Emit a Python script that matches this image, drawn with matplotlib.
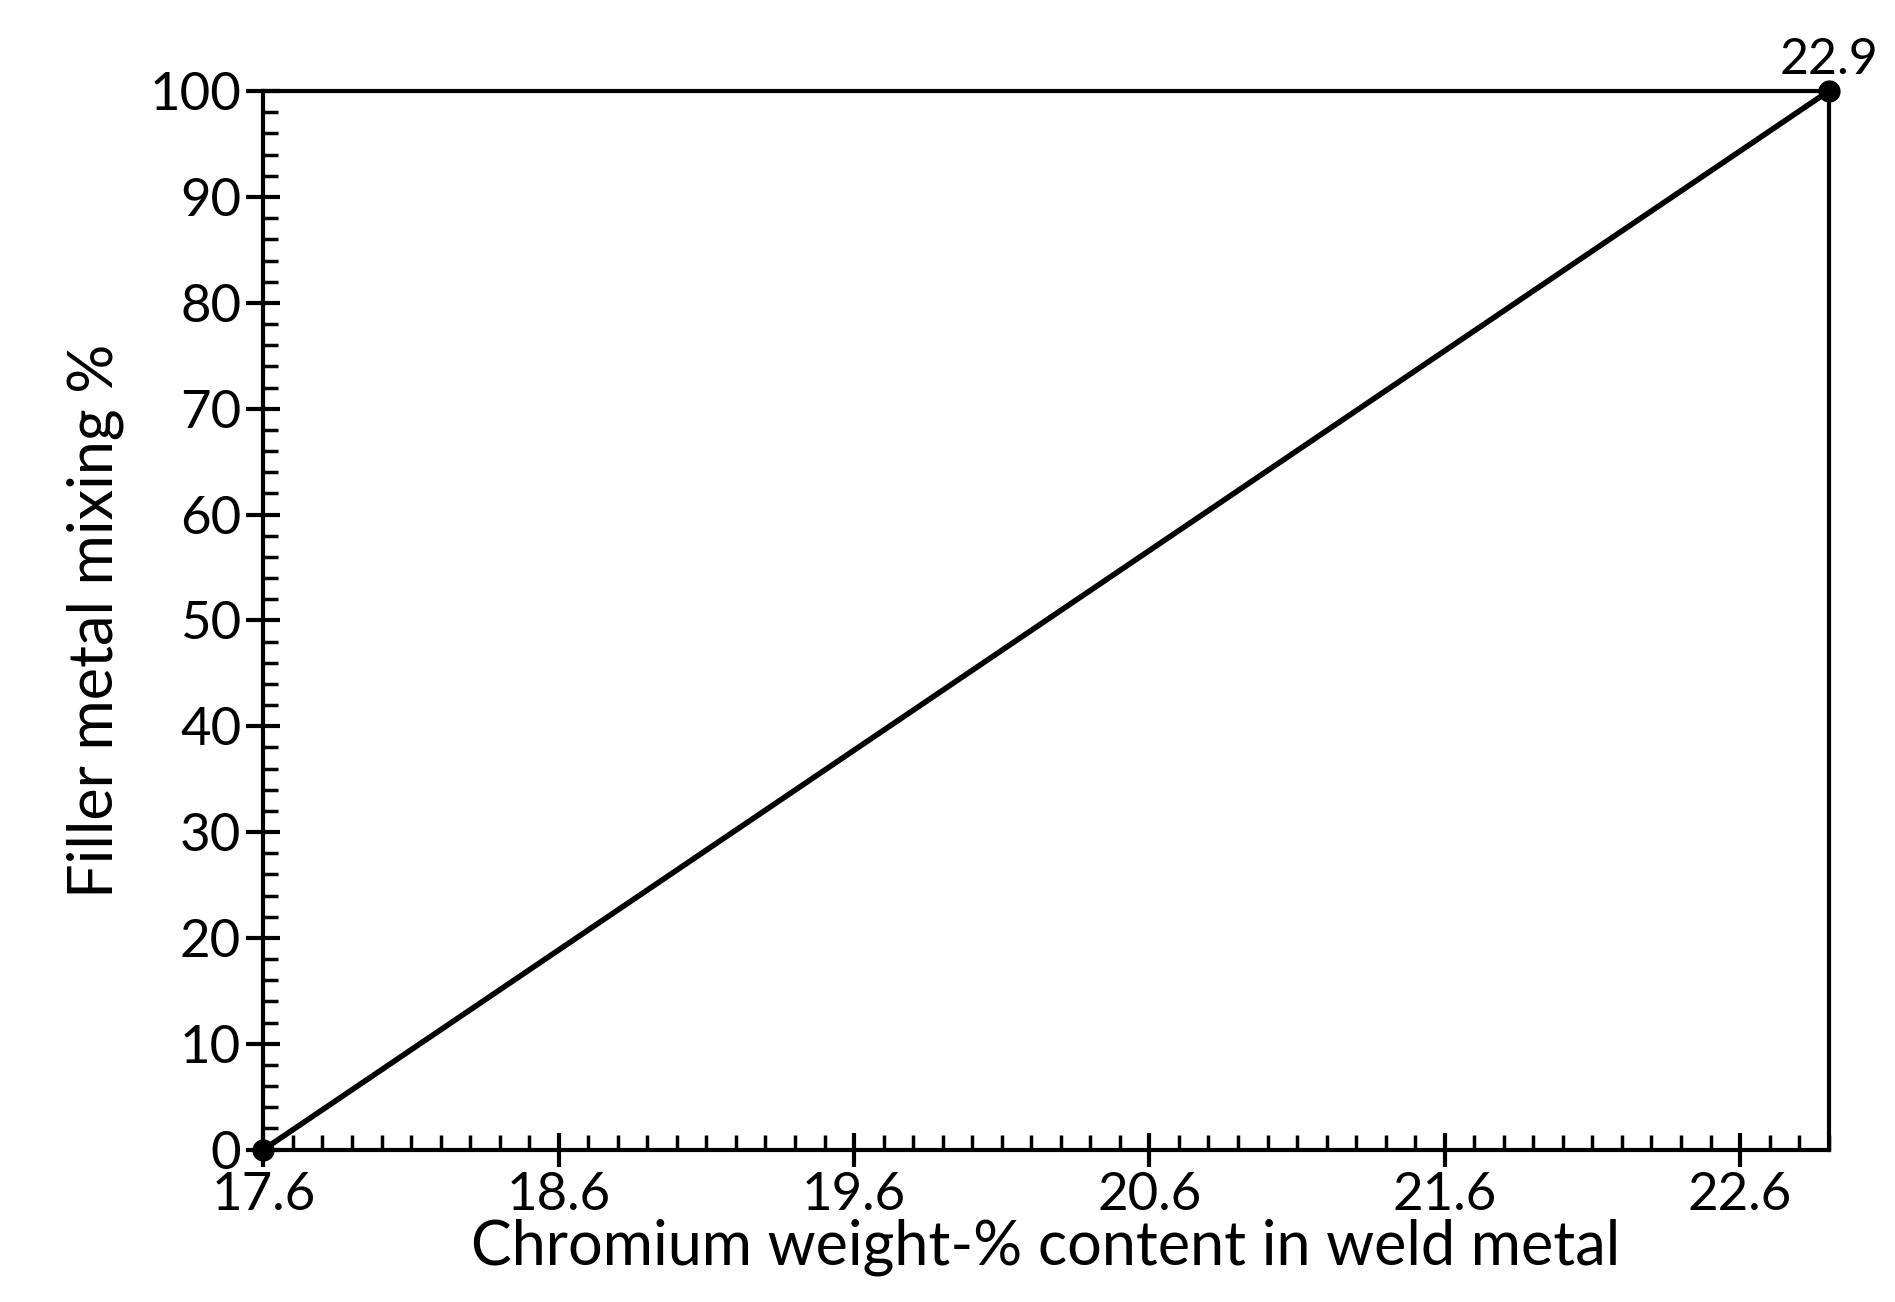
import matplotlib.pyplot as plt
from matplotlib.ticker import MultipleLocator

chromium = [17.6, 22.9]
mixing = [0, 100]
x_ticks = [17.6, 18.6, 19.6, 20.6, 21.6, 22.6]
y_ticks = list(range(0, 101, 10))

plt.rcParams["font.family"] = ["Lato", "DejaVu Sans"]

fig = plt.figure(figsize=(18.95, 13.02), dpi=100)
ax = fig.add_axes([0.139, 0.117, 0.826, 0.813])

ax.plot(chromium, mixing, color="black", lw=4, marker="o", ms=15, clip_on=False, zorder=5)
ax.annotate("22.9", (chromium[1], mixing[1]), xytext=(0, 6), textcoords="offset points",
            ha="center", va="bottom", fontsize=36)

ax.set_xlim(17.6, 22.9)
ax.set_ylim(0, 100)
ax.set_xticks(x_ticks)
ax.set_xticklabels([f"{v:.1f}" for v in x_ticks])
ax.set_yticks(y_ticks)
ax.xaxis.set_minor_locator(MultipleLocator(0.1))
ax.yaxis.set_minor_locator(MultipleLocator(2))

ax.tick_params(which="major", direction="inout", length=24, width=3, labelsize=38, pad=4)
ax.tick_params(which="minor", direction="in", length=11, width=2.5)
for s in ax.spines.values():
    s.set_linewidth(3)

ax.set_xlabel("Chromium weight-% content in weld metal", fontsize=44, labelpad=0)
ax.set_ylabel("Filler metal mixing %", fontsize=44, labelpad=18)

fig.savefig("out.png", dpi=100)
